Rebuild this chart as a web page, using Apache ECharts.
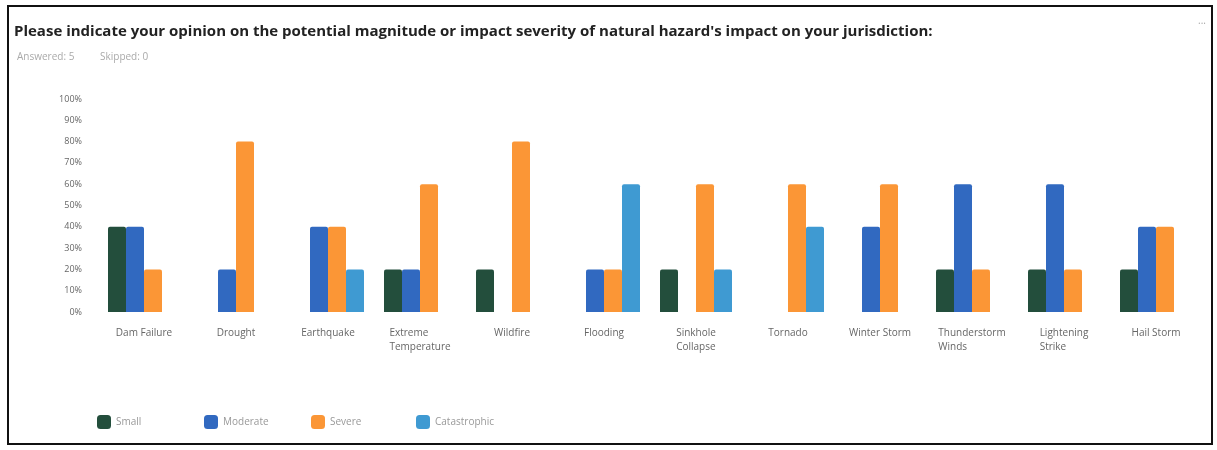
<!DOCTYPE html>
<html>
<head>
<meta charset="utf-8">
<script src="https://cdn.jsdelivr.net/npm/echarts@6/dist/echarts.min.js"></script>
<style>
html,body{margin:0;padding:0;background:#fff;}
#main{width:1217px;height:450px;}
</style>
</head>
<body>
<div id="main"></div>
<script>
var categories = ['Dam Failure','Drought','Earthquake','Extreme\nTemperature','Wildfire','Flooding','Sinkhole\nCollapse','Tornado','Winter Storm','Thunderstorm\nWinds','Lightening\nStrike','Hail Storm'];
var seriesNames = ['Small','Moderate','Severe','Catastrophic'];
var small        = [40, 0, 0, 20, 20, 0, 20, 0, 0, 20, 20, 20];
var moderate     = [40, 20, 40, 20, 0, 20, 0, 0, 40, 60, 60, 40];
var severe       = [20, 80, 40, 60, 80, 20, 60, 60, 60, 20, 20, 40];
var catastrophic = [0, 0, 20, 0, 0, 60, 20, 40, 0, 0, 0, 0];
var yTicks = [0,10,20,30,40,50,60,70,80,90,100];
var colors = ['#234e3c','#3169c0','#fb9636','#3f9ad2'];
var titleText = "Please indicate your opinion on the potential magnitude or impact severity of natural hazard's impact on your jurisdiction:";
var answeredText = 'Answered: 5';
var skippedText = 'Skipped: 0';

var chart = echarts.init(document.getElementById('main'));
var data = [small, moderate, severe, catastrophic];
var series = seriesNames.map(function(n, i){
  return {
    name: n, type: 'bar', data: data[i], barWidth: 18, barGap: '0%',
    itemStyle: {color: colors[i], borderRadius: [2,2,0,0]}
  };
});
var legendLefts = [97, 204, 311, 416];
var legends = seriesNames.map(function(n, i){
  return {
    left: legendLefts[i], top: 415, padding: 0, itemWidth: 14, itemHeight: 14,
    icon: 'roundRect',
    textStyle: {fontSize: 10, color: '#999'},
    data: [n]
  };
});
chart.setOption({
  animation: false,
  color: colors,
  textStyle: {fontFamily: '"Open Sans", sans-serif'},
  title: {
    text: titleText,
    left: 14, top: 24, padding: 0,
    textStyle: {fontSize: 15, fontWeight: 'bold', color: '#222', fontFamily: '"Open Sans", sans-serif'}
  },
  legend: legends,
  grid: {left: 98, right: 15, top: 99, bottom: 138},
  xAxis: {
    type: 'category', data: categories,
    axisLine: {show: false}, axisTick: {show: false},
    axisLabel: {
      margin: 14, interval: 0, color: '#666', fontSize: 10,
      formatter: function(v){ return v.split('\n').map(function(s){return '{a|' + s + '}';}).join('\n'); },
      rich: {a: {align: 'left', fontSize: 10, color: '#666', lineHeight: 14}}
    }
  },
  yAxis: {
    type: 'value', min: 0, max: 100, interval: 10,
    axisLine: {show: false}, axisTick: {show: false},
    splitLine: {show: false},
    axisLabel: {color: '#666', fontSize: 9, margin: 16, formatter: function(v){ return yTicks.indexOf(v) >= 0 ? v + '%' : ''; }}
  },
  graphic: [
    {type: 'rect', shape: {x: 8, y: 6, width: 1204, height: 438}, style: {fill: 'none', stroke: '#111', lineWidth: 2}, silent: true},
    {type: 'text', left: 17, top: 52, style: {text: answeredText, fill: '#aaa', fontSize: 10, fontFamily: '"Open Sans", sans-serif'}},
    {type: 'text', left: 100, top: 52, style: {text: skippedText, fill: '#aaa', fontSize: 10, fontFamily: '"Open Sans", sans-serif'}},
    {type: 'text', left: 1198, top: 16, style: {text: '...', fill: '#aaa', fontSize: 10, fontFamily: '"Open Sans", sans-serif'}}
  ],
  series: series
});
</script>
</body>
</html>
